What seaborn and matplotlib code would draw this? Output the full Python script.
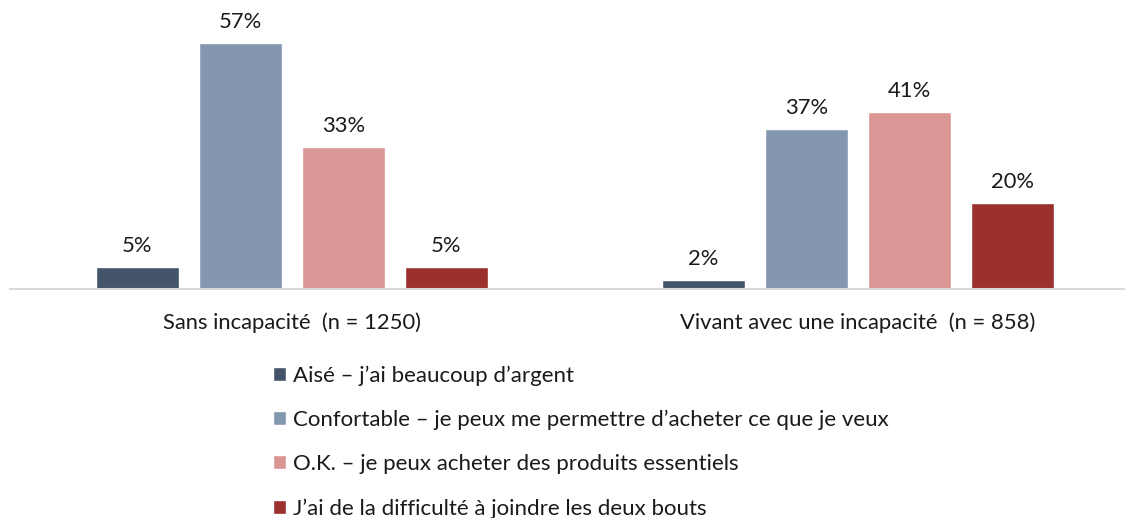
import matplotlib
matplotlib.use("Agg")
import matplotlib.pyplot as plt
import seaborn as sns
import pandas as pd

groups = ["Sans incapacité  (n = 1250)", "Vivant avec une incapacité  (n = 858)"]
series = [
    "Aisé – j’ai beaucoup d’argent",
    "Confortable – je peux me permettre d’acheter ce que je veux",
    "O.K. – je peux acheter des produits essentiels",
    "J’ai de la difficulté à joindre les deux bouts",
]
values_sans = [5, 57, 33, 5]
values_avec = [2, 37, 41, 20]
colors = ["#44546A", "#8497B0", "#DA9694", "#9B302C"]

rows = []
for g, vals in zip(groups, [values_sans, values_avec]):
    for s, v in zip(series, vals):
        rows.append({"groupe": g, "serie": s, "valeur": v})
df = pd.DataFrame(rows)

sns.set_style("white")
plt.rcParams["font.family"] = ["Lato", "DejaVu Sans"]

fig = plt.figure(figsize=(11.25, 5.18), dpi=100)
ax = fig.add_axes([10/1125, (518-289)/518, 1-10/1125, 289/518])

sns.barplot(data=df, x="groupe", y="valeur", hue="serie", order=groups,
            hue_order=series, palette=colors, width=0.728, gap=0.19,
            ax=ax, legend=True, saturation=1)

for c in ax.containers:
    ax.bar_label(c, labels=[f"{int(v)}%" for v in c.datavalues], padding=8,
                 fontsize=15.8, color="#1a1a1a")

ax.set_xlim(-0.498, 1.472)
ax.set_ylim(0, 67)
ax.set_xlabel("")
ax.set_ylabel("")
ax.set_yticks([])
ax.tick_params(axis="x", length=0, pad=17, labelsize=15.8, labelcolor="#1a1a1a")
for s in ["top", "left", "right"]:
    ax.spines[s].set_visible(False)
ax.spines["bottom"].set_color("#D9D9D9")
ax.spines["bottom"].set_linewidth(1.5)

handles, labels = ax.get_legend_handles_labels()
ax.get_legend().remove()
fig.legend(handles, labels, loc="center left",
           bbox_to_anchor=(253/1125, 1-442/518), frameon=False,
           fontsize=16, handlelength=0.6, handleheight=0.6,
           handletextpad=0.32, labelspacing=1.08, labelcolor="#1a1a1a")

fig.savefig("out.png", dpi=100)
